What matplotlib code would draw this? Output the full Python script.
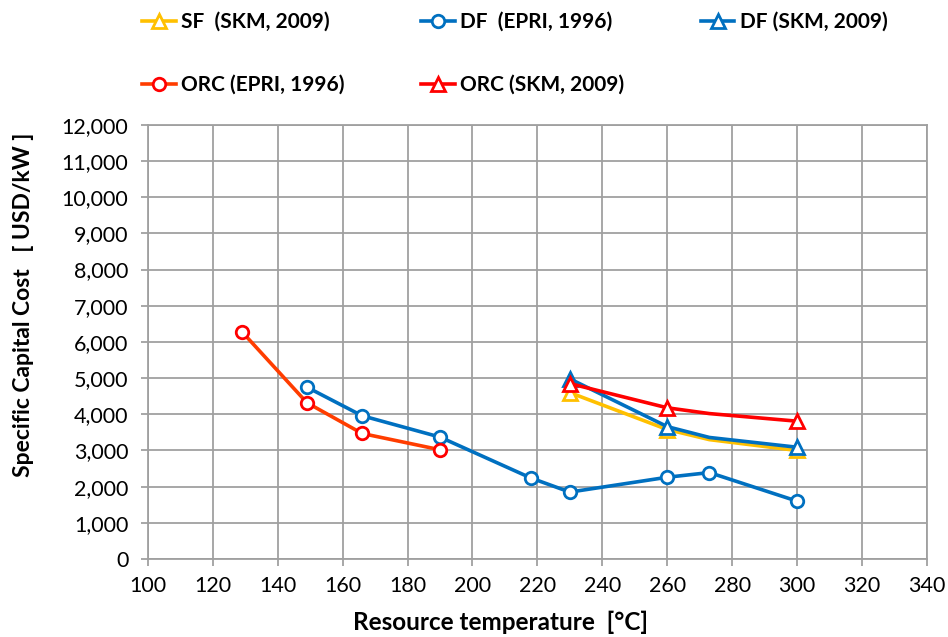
import matplotlib
matplotlib.use('Agg')
import matplotlib.pyplot as plt
from matplotlib.ticker import FuncFormatter, MultipleLocator

plt.rcParams['font.family'] = ['Lato', 'DejaVu Sans']

# data
sf_skm_t = [230, 260, 273, 300]
sf_skm_c = [4600, 3580, 3300, 3000]
sf_skm_marks = [0, 1, 3]

df_epri_t = [149, 166, 190, 218, 230, 260, 273, 300]
df_epri_c = [4750, 3960, 3370, 2240, 1850, 2260, 2390, 1600]

df_skm_t = [230, 260, 273, 300]
df_skm_c = [4980, 3660, 3360, 3090]
df_skm_marks = [0, 1, 3]

orc_epri_t = [129, 149, 166, 190]
orc_epri_c = [6280, 4320, 3470, 3020]

orc_skm_t = [230, 260, 273, 300]
orc_skm_c = [4850, 4180, 4020, 3810]
orc_skm_marks = [0, 1, 3]

YELLOW = '#FFC000'
BLUE = '#0070C0'
RED = '#FF0000'
ORANGE_RED = '#FF3D00'

fig = plt.figure(figsize=(9.48, 6.37), dpi=100)
ax = fig.add_axes([0.156, 0.1224, 0.8217, 0.6816])

lw = 2.6
ms = 9
mew = 2.0

h_sf, = ax.plot(sf_skm_t, sf_skm_c, color=YELLOW, lw=lw, marker='^', ms=ms + 1,
                mfc='white', mec=YELLOW, mew=mew, markevery=sf_skm_marks,
                label='SF  (SKM, 2009)', zorder=3)
h_dfe, = ax.plot(df_epri_t, df_epri_c, color=BLUE, lw=lw, marker='o', ms=ms,
                 mfc='white', mec=BLUE, mew=mew, label='DF  (EPRI, 1996)', zorder=4)
h_dfs, = ax.plot(df_skm_t, df_skm_c, color=BLUE, lw=lw, marker='^', ms=ms + 1,
                 mfc='white', mec=BLUE, mew=mew, markevery=df_skm_marks,
                 label='DF (SKM, 2009)', zorder=4)
h_orce, = ax.plot(orc_epri_t, orc_epri_c, color=ORANGE_RED, lw=lw, marker='o', ms=ms,
                  mfc='white', mec=RED, mew=mew, label='ORC (EPRI, 1996)', zorder=5)
h_orcs, = ax.plot(orc_skm_t, orc_skm_c, color=RED, lw=lw, marker='^', ms=ms + 1,
                  mfc='white', mec=RED, mew=mew, markevery=orc_skm_marks,
                  label='ORC (SKM, 2009)', zorder=5)

ax.set_xlim(100, 340)
ax.set_ylim(0, 12000)
ax.xaxis.set_major_locator(MultipleLocator(20))
ax.yaxis.set_major_locator(MultipleLocator(1000))
ax.yaxis.set_major_formatter(FuncFormatter(lambda v, p: f'{int(v):,}'))
ax.grid(True, color='#A0A0A0', lw=1.3)
ax.set_axisbelow(True)
for s in ax.spines.values():
    s.set_color('#A0A0A0')
    s.set_linewidth(1.3)
ax.tick_params(axis='both', colors='#A0A0A0', labelcolor='black', labelsize=15.5,
               length=5, width=1.3, pad=7)
ax.tick_params(axis='y', pad=9)

ax.set_xlabel('Resource temperature  [°C]', fontsize=17.5, fontweight='bold')
ax.xaxis.set_label_coords(0.453, -0.118)
ax.set_ylabel('Specific Capital Cost   [ USD/kW ]', fontsize=16.5, fontweight='bold')
ax.yaxis.set_label_coords(-0.146, 0.585)

# row-major order for a 3-column legend
handles = [h_sf, h_orce, h_dfe, h_orcs, h_dfs]
leg = fig.legend(handles=handles, labels=[h.get_label() for h in handles],
                 ncol=3, loc='upper left', bbox_to_anchor=(0.150, 0.981),
                 frameon=False, prop={'weight': 'bold', 'size': 15},
                 borderpad=0, borderaxespad=0,
                 handlelength=1.6, handletextpad=0.25, columnspacing=3.7,
                 labelspacing=2.05)

fig.savefig('out.png', dpi=100)
